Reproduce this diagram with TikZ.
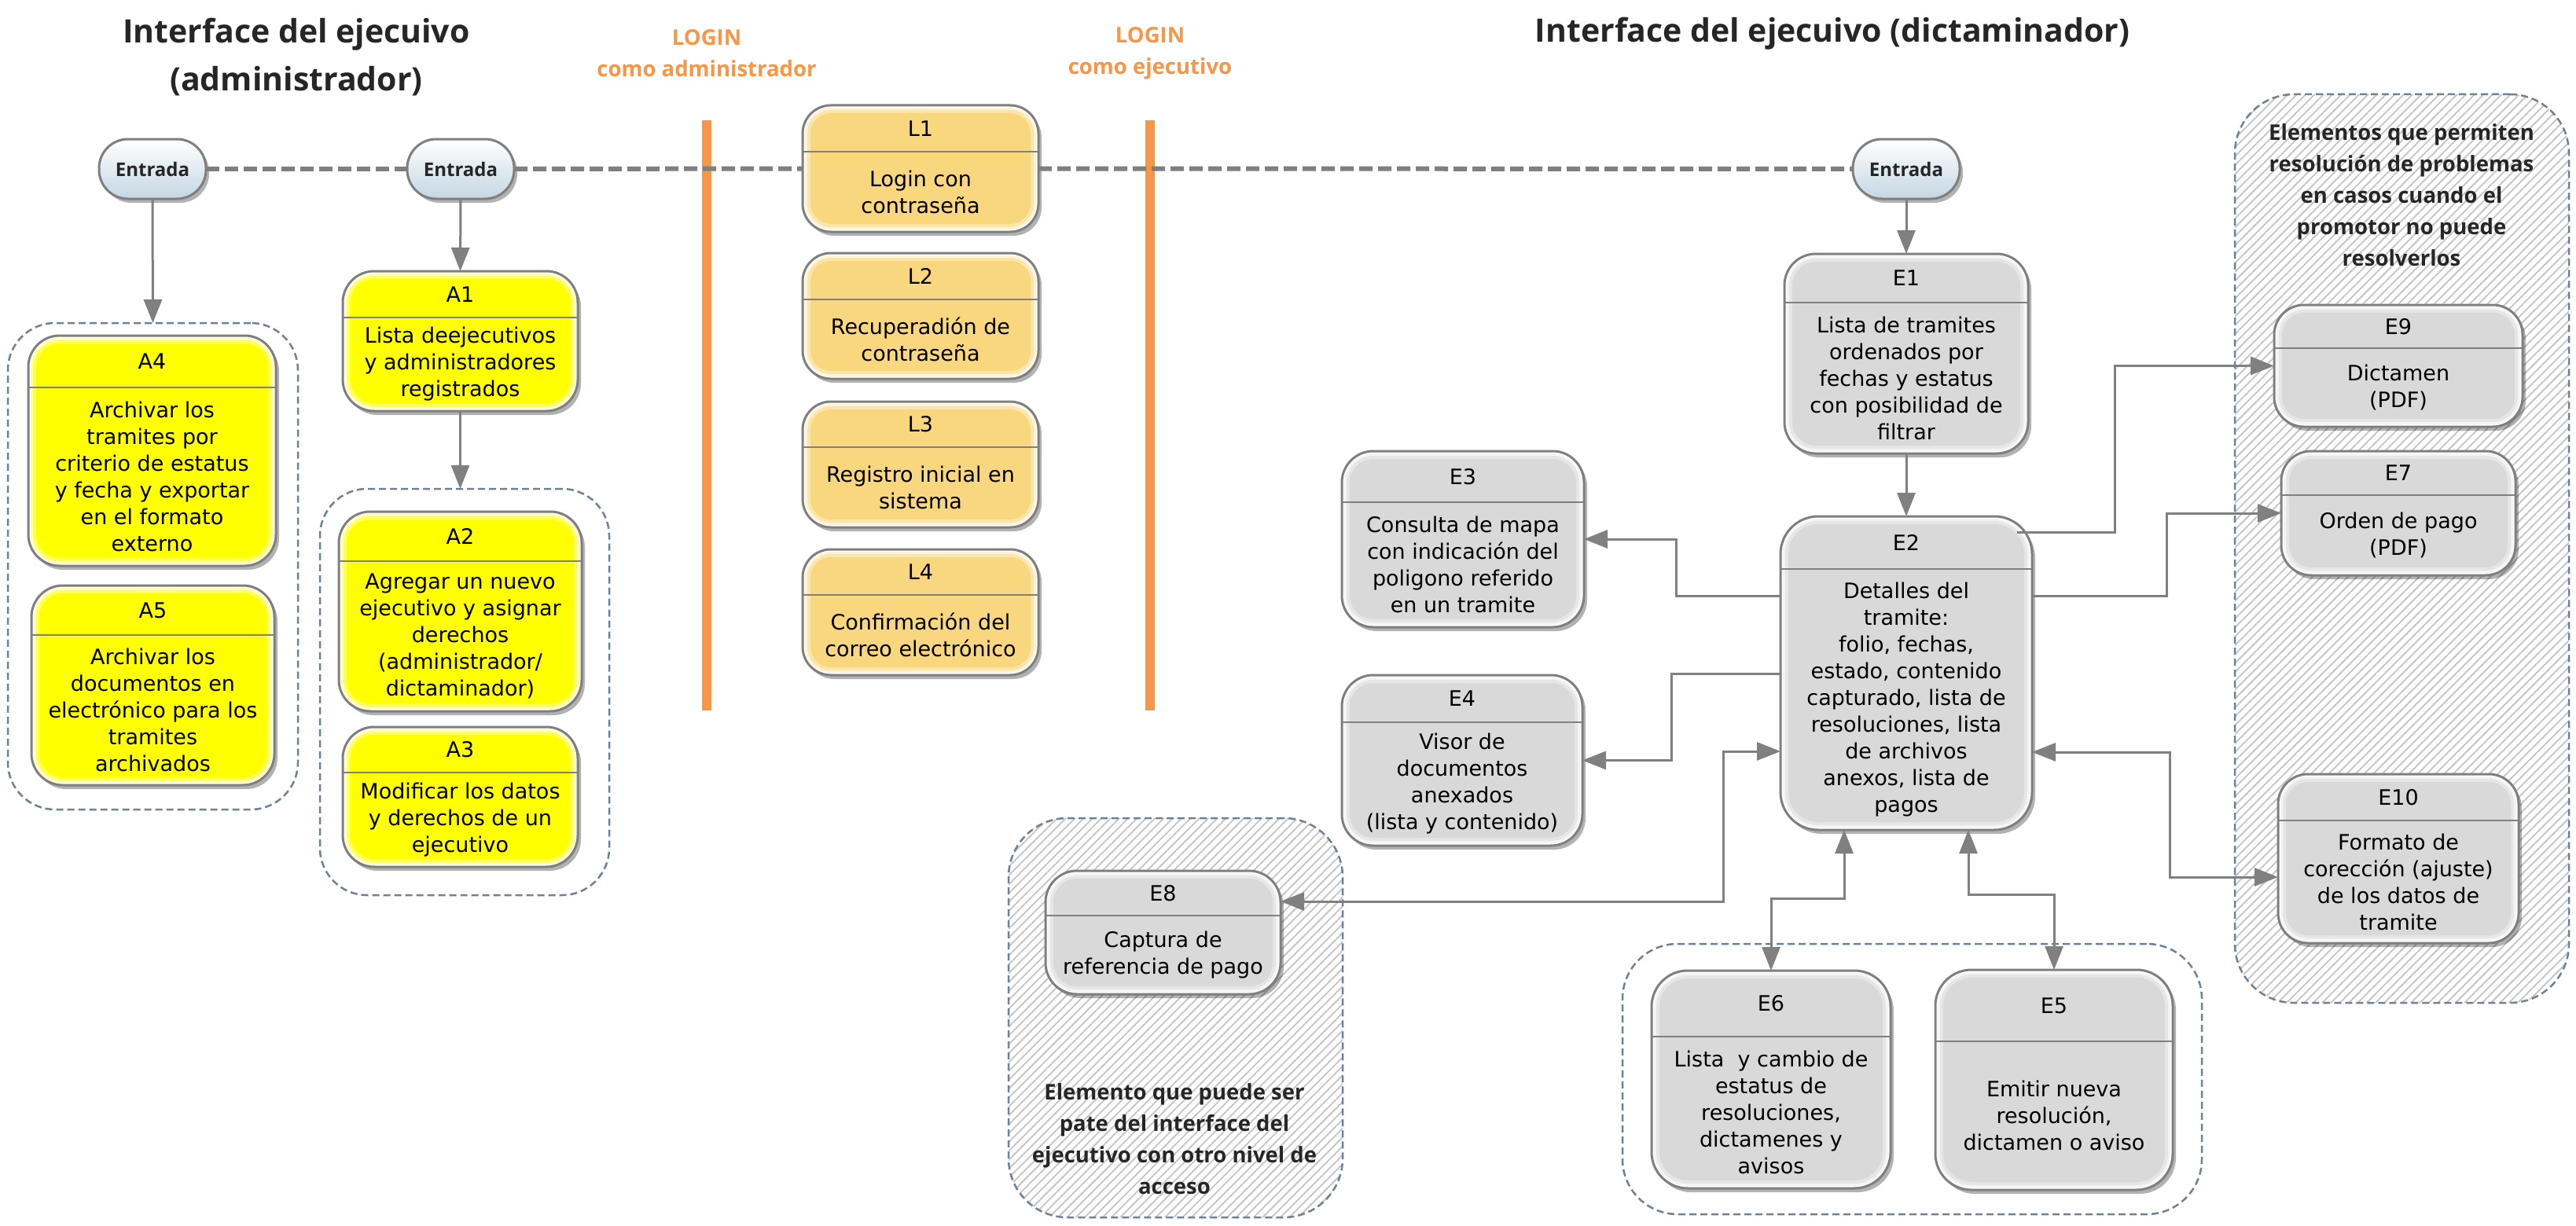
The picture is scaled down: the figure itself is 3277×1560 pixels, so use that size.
\documentclass[tikz,border=0pt]{standalone}
\usepackage{fontspec}
\setmainfont{DejaVu Sans}
\newfontfamily\headfont{Open Sans}
\usetikzlibrary{arrows.meta,shadows,patterns.meta,calc}
\definecolor{boxgray}{HTML}{7F7F7F}
\definecolor{argray}{HTML}{808080}
\definecolor{ybox}{HTML}{FFFF00}
\definecolor{lbox}{HTML}{F9D77E}
\definecolor{ebox}{HTML}{D9D9D9}
\definecolor{orangebar}{HTML}{F79646}
\definecolor{contline}{HTML}{6F8294}
\definecolor{hatchcol}{HTML}{C4C4C4}
\definecolor{titlegray}{HTML}{262626}
\definecolor{entbot}{HTML}{C4D6E3}
\def\rr{36}
\newcommand{\pbox}[9]{%
 \pgfmathsetmacro{\ra}{\rr-3}\pgfmathsetmacro{\rb}{\rr-6}\pgfmathsetmacro{\rc}{\rr-10}%
 \node[boxshape, rounded corners=\rr pt, minimum width={(#4-#2)*1pt}, minimum height={(#5-#3)*1pt}] (#1) at ({(#2+#4)/2},{(#3+#5)/2}) {};
 \fill[#7!30!white, rounded corners=\ra pt] ({#2+3},{#3+3}) rectangle ({#4-3},{#5-3});
 \fill[#7!65!white, rounded corners=\rb pt] ({#2+6},{#3+6}) rectangle ({#4-6},{#5-6});
 \fill[#7, rounded corners=\rc pt] ({#2+10},{#3+10}) rectangle ({#4-10},{#5-10});
 \draw[divline] (#2,#6) -- (#4,#6);
 \node[idtext] (#1-id) at ({(#2+#4)/2},{(#3+#6)/2}) {#8};
 \node[bodytext] (#1-body) at ({(#2+#4)/2},{(#6+#5)/2}) {#9};
}
\begin{document}
\begin{tikzpicture}[x=1pt,y=-1pt,
 boxshape/.style={draw=boxgray, line width=3pt, inner sep=0pt, outer sep=0pt, fill=white,
   drop shadow={shadow xshift=4pt, shadow yshift=-5pt, fill=black, opacity=0.3}},
 divline/.style={draw=boxgray, line width=2.5pt},
 idtext/.style={inner sep=0pt, font=\fontsize{27}{34}\selectfont, text=black},
 bodytext/.style={inner sep=0pt, align=center, font=\fontsize{27}{34}\selectfont, text=black},
 entrada/.style={draw=boxgray, line width=3pt, rounded corners=37pt, minimum width=136pt, minimum height=76pt,
   inner sep=0pt, outer sep=0pt, top color=white, bottom color=entbot,
   font=\headfont\bfseries\fontsize{24}{28}\selectfont, text=titlegray,
   drop shadow={shadow xshift=4pt, shadow yshift=-5pt, fill=black, opacity=0.3}},
 titletext/.style={inner sep=0pt, align=center, text=titlegray, font=\headfont\bfseries\fontsize{41}{61}\selectfont},
 logintext/.style={inner sep=0pt, align=center, text=orangebar, font=\headfont\bfseries\fontsize{27.5}{40}\selectfont},
 contlabel/.style={inner sep=0pt, align=center, text=titlegray, font=\headfont\bfseries\fontsize{27.5}{40}\selectfont},
 dcont/.style={draw=contline, line width=2.5pt, dash pattern=on 9pt off 5pt, rounded corners=60pt, inner sep=0pt, outer sep=0pt},
 hcont/.style={draw=contline, line width=2.5pt, dash pattern=on 9pt off 5pt, rounded corners=75pt, inner sep=0pt, outer sep=0pt,
   preaction={fill=white}, pattern={Lines[angle=45,distance=8pt,line width=1.8pt]}, pattern color=hatchcol},
 conn/.style={draw=argray, line width=3pt, -{Triangle[width=23pt,length=30pt]}},
 biconn/.style={draw=argray, line width=3pt, {Triangle[width=23pt,length=30pt]}-{Triangle[width=23pt,length=30pt]}},
 dashline/.style={draw=boxgray, line width=6pt, dash pattern=on 17pt off 7pt}
]
\useasboundingbox (0,0) rectangle (3277,1560);
\fill[white] (0,0) rectangle (3277,1560);

% titles
\node[titletext] (t1) at (377,73) {Interface del ejecuivo\\(administrador)};
\node[titletext] (t2) at (2331,43) {Interface del ejecuivo (dictaminador)};
\node[logintext] (lg1) at (899,68) {LOGIN\\como administrador};
\node[logintext] (lg2) at (1463,68) {LOGIN\\como ejecutivo};

% containers
\node[dcont, minimum width=369pt, minimum height=619pt] (cA4) at (194.5,720.5) {};
\node[dcont, minimum width=368pt, minimum height=517pt] (cA2) at (591,880.5) {};
\node[hcont, minimum width=425pt, minimum height=508pt] (cE8) at (1495.5,1295) {};
\node[hcont, minimum width=425pt, minimum height=1156pt] (cR) at (3055.5,698) {};
\node[dcont, rounded corners=70pt, minimum width=737pt, minimum height=344pt] (cB) at (2432.5,1373) {};
\node[contlabel] (lab1) at (1494,1449) {Elemento que puede ser\\pate del interface del\\ejecutivo con otro nivel de\\acceso};
\node[contlabel] (lab2) at (3055,248) {Elementos que permiten\\resolución de problemas\\en casos cuando el\\promotor no puede\\resolverlos};

% orange bars
\fill[orangebar] (893,153) rectangle (905,904);
\fill[orangebar] (1457,153) rectangle (1469,904);

% entradas
\node[entrada] (en1) at (194,215) {Entrada};
\node[entrada] (en2) at (586,215) {Entrada};
\node[entrada] (en3) at (2425,215) {Entrada};

% admin boxes
\def\rr{40}
\pbox{A1}{436}{345}{735}{523}{404}{ybox}{A1}{Lista deejecutivos\\y administradores\\registrados}
\pbox{A4}{36}{427}{351}{720}{493}{ybox}{A4}{Archivar los\\tramites por\\criterio de estatus\\y fecha y exportar\\en el formato\\externo}
\pbox{A5}{40}{745}{349}{999}{808}{ybox}{A5}{Archivar los\\documentos en\\electrónico para los\\tramites\\archivados}
\pbox{A2}{431}{651}{740}{905}{714}{ybox}{A2}{Agregar un nuevo\\ejecutivo y asignar\\derechos\\(administrador/\\dictaminador)}
\pbox{A3}{436}{925}{735}{1103}{983}{ybox}{A3}{Modificar los datos\\y derechos de un\\ejecutivo}

% login boxes
\def\rr{36}
\pbox{L1}{1021}{134}{1321}{295}{193}{lbox}{L1}{Login con\\contraseña}
\pbox{L2}{1021}{322}{1321}{482}{381}{lbox}{L2}{Recuperadión de\\contraseña}
\pbox{L3}{1021}{511}{1321}{671}{569}{lbox}{L3}{Registro inicial en\\sistema}
\pbox{L4}{1021}{699}{1321}{859}{757}{lbox}{L4}{Confirmación del\\correo electrónico}

% executive boxes
\def\rr{40}
\pbox{E1}{2270}{323}{2580}{577}{385}{ebox}{E1}{Lista de tramites\\ordenados por\\fechas y estatus\\con posibilidad de\\filtrar}
\def\rr{48}
\pbox{E2}{2265}{657}{2585}{1056}{724}{ebox}{E2}{Detalles del\\tramite:\\folio, fechas,\\estado, contenido\\capturado, lista de\\resoluciones, lista\\de archivos\\anexos, lista de\\pagos}
\def\rr{40}
\pbox{E3}{1707}{574}{2015}{798}{639}{ebox}{E3}{Consulta de mapa\\con indicación del\\poligono referido\\en un tramite}
\pbox{E4}{1707}{859}{2013}{1076}{919}{ebox}{E4}{Visor de\\documentos\\anexados\\(lista y contenido)}
\pbox{E8}{1330}{1108}{1629}{1265}{1165}{ebox}{E8}{Captura de\\referencia de pago}
\def\rr{46}
\pbox{E6}{2101}{1235}{2405}{1512}{1319}{ebox}{E6}{Lista\ \ y cambio de\\estatus de\\resoluciones,\\dictamenes y\\avisos}
\pbox{E5}{2462}{1234}{2764}{1514}{1325}{ebox}{E5}{Emitir nueva\\resolución,\\dictamen o aviso}
\def\rr{38}
\pbox{E9}{2893}{388}{3209}{543}{443}{ebox}{E9}{Dictamen\\(PDF)}
\pbox{E7}{2902}{574}{3200}{732}{630}{ebox}{E7}{Orden de pago\\(PDF)}
\pbox{E10}{2898}{985}{3204}{1200}{1044}{ebox}{E10}{Formato de\\corección (ajuste)\\de los datos de\\tramite}

% dashed entry line
\draw[dashline] (en1.east) -- (en2.west);
\draw[dashline] (en2.east) -- (L1.west);
\draw[dashline] (L1.east) -- (en3.west);

% connectors
\draw[conn] (en1.south) -- (cA4.north);
\draw[conn] (en2.south) -- (A1.north);
\draw[conn] (A1.south) -- (A1.south |- cA2.north);
\draw[conn] (en3.south) -- (E1.north);
\draw[conn] (E1.south) -- (E2.north);
\draw[conn] (E2.west |- 0,758) -- (2132,758) |- (E3.east);
\draw[conn] (E2.west |- 0,857) -- (2126,857) |- (E4.east);
\draw[biconn] (E8.east |- 0,1147) -- (2192,1147) |- (E2.west |- 0,956);
\draw[biconn] (E2.south -| 2346,0) -- (2346,1143) -| (E6.north);
\draw[biconn] (E2.south -| 2504,0) -- (2504,1138) -| (E5.north);
\draw[conn] ($(E2.east |- 0,677)+(-19,0)$) -- (2690,677) |- (E9.west);
\draw[conn] (E2.east |- 0,758) -- (2756,758) |- (E7.west);
\draw[biconn] (E2.east |- 0,957) -- (2760,957) |- (E10.west |- 0,1116);
\end{tikzpicture}
\end{document}
